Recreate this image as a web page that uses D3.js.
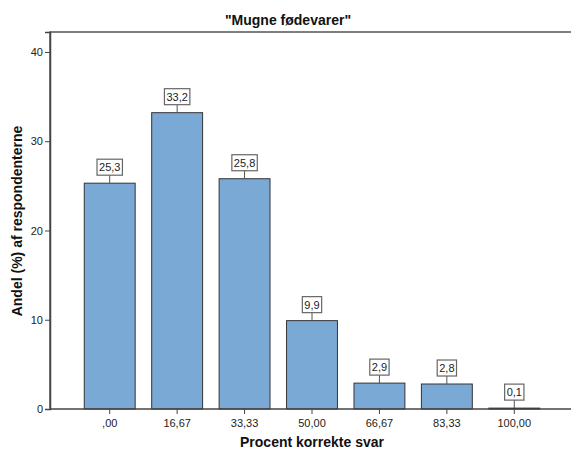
<!DOCTYPE html>
<html>
<head>
<meta charset="utf-8">
<script src="https://cdn.jsdelivr.net/npm/d3@7"></script>
<style>
  body { margin: 0; background: #fff; }
  text { font-family: "Liberation Sans", Arial, sans-serif; }
</style>
</head>
<body>
<svg id="chart"></svg>
<script>
// data
const categories = [",00", "16,67", "33,33", "50,00", "66,67", "83,33", "100,00"];
const values = [25.3, 33.2, 25.8, 9.9, 2.9, 2.8, 0.1];
const yTicks = [0, 10, 20, 30, 40];

const width = 571, height = 459;
const plotLeft = 50, plotTop = 32, plotBottom = 409, plotRight = 575;

const svg = d3.select("#chart")
    .attr("width", width)
    .attr("height", height);

const x = d3.scaleBand()
    .domain(categories)
    .range([76, 548])
    .paddingInner(0.245)
    .paddingOuter(0.1225);

const y = d3.scaleLinear()
    .domain([0, 42.24])
    .range([plotBottom, plotTop]);

// frame (top + left edge, right runs off the picture)
svg.append("path")
    .attr("d", `M${plotLeft},${plotBottom}V${plotTop}H${plotRight}`)
    .attr("fill", "none")
    .attr("stroke", "#555")
    .attr("stroke-width", 1.5);

// bars
svg.append("g").selectAll("rect")
    .data(values)
    .join("rect")
    .attr("x", (d, i) => x(categories[i]))
    .attr("y", d => y(d))
    .attr("width", x.bandwidth())
    .attr("height", d => plotBottom - y(d))
    .attr("fill", "#7BA9D6")
    .attr("stroke", "#333")
    .attr("stroke-width", 1);

// axes
const yAxis = svg.append("g")
    .attr("transform", `translate(${plotLeft},0)`)
    .call(d3.axisLeft(y).tickValues(yTicks).tickSize(5).tickPadding(2).tickFormat(d3.format("d")));
yAxis.select(".domain").attr("stroke", "#444").attr("stroke-width", 1.5);
yAxis.selectAll(".tick line").attr("stroke", "#444");
yAxis.selectAll("text").attr("font-size", 11).attr("fill", "#222");

const xAxis = svg.append("g")
    .attr("transform", `translate(0,${plotBottom})`)
    .call(d3.axisBottom(x).tickSize(5).tickPadding(5).tickSizeOuter(0));
xAxis.select(".domain").attr("d", `M${plotLeft},0H${plotRight}`).attr("stroke", "#444").attr("stroke-width", 1.5);
xAxis.selectAll(".tick line").attr("stroke", "#444");
xAxis.selectAll("text").attr("font-size", 11).attr("fill", "#222");

// value labels in boxes
const labels = svg.append("g").selectAll("g")
    .data(values)
    .join("g")
    .attr("transform", (d, i) => `translate(${x(categories[i]) + x.bandwidth() / 2},${y(d)})`);

labels.append("line")
    .attr("y1", 0)
    .attr("y2", -8)
    .attr("stroke", "#555");

labels.append("text")
    .attr("text-anchor", "middle")
    .attr("y", -12)
    .attr("font-size", 11)
    .attr("fill", "#222")
    .text(d => d3.format(".1f")(d).replace(".", ","))
    .each(function () {
        const b = this.getBBox();
        d3.select(this.parentNode).insert("rect", "text")
            .attr("x", b.x - 2)
            .attr("y", -24)
            .attr("width", b.width + 4)
            .attr("height", 16)
            .attr("fill", "#fff")
            .attr("stroke", "#666")
            .attr("stroke-width", 1.2);
    });

// titles
svg.append("text")
    .attr("x", 288)
    .attr("y", 25)
    .attr("text-anchor", "middle")
    .attr("font-size", 14)
    .attr("font-weight", "bold")
    .attr("fill", "#111")
    .text("\"Mugne fødevarer\"");

svg.append("text")
    .attr("x", 312)
    .attr("y", 447)
    .attr("text-anchor", "middle")
    .attr("font-size", 14)
    .attr("font-weight", "bold")
    .attr("fill", "#111")
    .text("Procent korrekte svar");

svg.append("text")
    .attr("transform", "translate(22,221) rotate(-90)")
    .attr("text-anchor", "middle")
    .attr("font-size", 14)
    .attr("font-weight", "bold")
    .attr("fill", "#111")
    .text("Andel (%) af respondenterne");
</script>
</body>
</html>
